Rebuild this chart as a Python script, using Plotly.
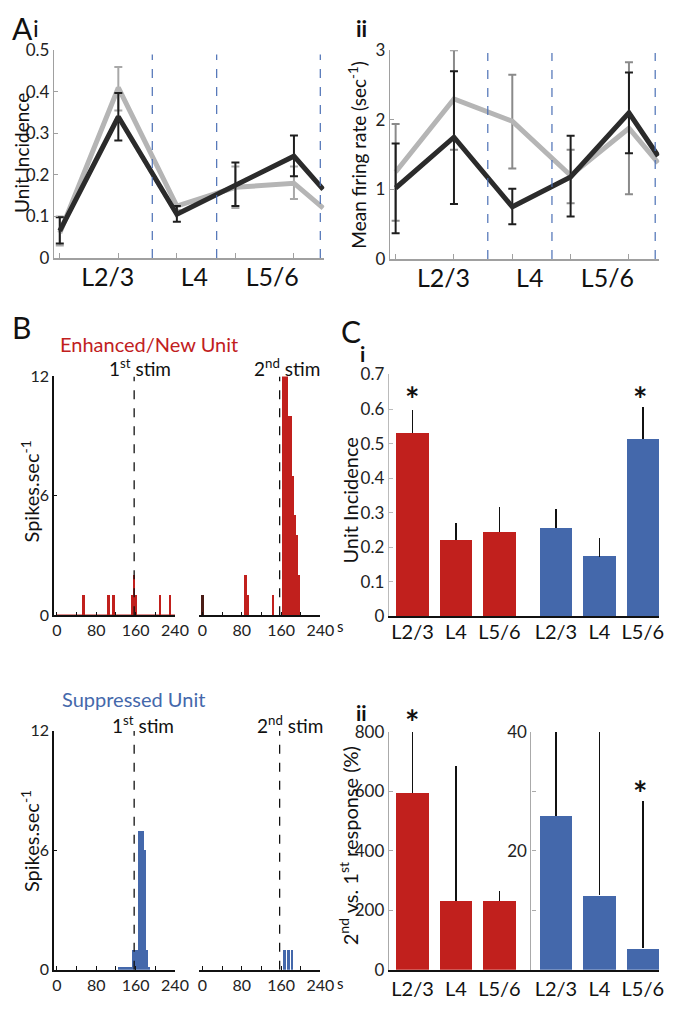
import plotly.graph_objects as go

# ---------------- data ----------------
layers = ["L2/3", "L4", "L5/6"]
depth_pos = [1, 2, 3, 4, 5, 5.5]
layer_bounds = [2.58, 3.68, 5.45]

# Ai - unit incidence
inc_gray = [0.06, 0.41, 0.125, 0.17, 0.18, 0.12]
inc_gray_lo = [0.03, 0.355, 0.115, 0.12, 0.142]
inc_gray_hi = [0.10, 0.46, 0.13, 0.22, 0.22]
inc_black = [0.065, 0.34, 0.105, 0.175, 0.245, 0.165]
inc_black_lo = [0.035, 0.283, 0.087, 0.125, 0.197]
inc_black_hi = [0.098, 0.397, 0.125, 0.23, 0.295]

# Aii - mean firing rate
rate_gray = [1.25, 2.3, 1.98, 1.2, 1.88, 1.38]
rate_gray_lo = [0.55, 1.57, 1.3, 0.8, 0.93]
rate_gray_hi = [1.94, 3.0, 2.65, 1.57, 2.83]
rate_black = [1.02, 1.75, 0.75, 1.18, 2.1, 1.48]
rate_black_lo = [0.37, 0.79, 0.5, 0.61, 1.52]
rate_black_hi = [1.66, 2.7, 1.01, 1.77, 2.68]

# B - PSTHs (bin centre in s, spikes/sec)
stim_time = 157
enh_first_t = [54, 105, 115, 154, 157, 161, 210, 230]
enh_first_n = [1, 1, 1, 1, 2, 1, 1, 1]
enh_second_t = [2, 89, 93, 145, 165, 169, 173, 177, 181, 185, 189, 193, 197]
enh_second_n = [1, 2, 1, 1, 12, 12, 12, 10, 10, 7, 5, 4, 2]
sup_first_t = [127, 131, 135, 139, 143, 147, 151, 155, 159, 163, 167, 171, 175, 179, 183, 187]
sup_first_n = [0.15, 0.15, 0.15, 0.15, 0.15, 0.15, 0.15, 1, 1, 1, 7, 7, 7, 6, 1, 0.15]
sup_second_t = [168, 176, 184]
sup_second_n = [1, 1, 1]

# C - per layer, enhanced (red) and suppressed (blue)
ci_red = [0.53, 0.221, 0.244]
ci_red_top = [0.598, 0.269, 0.317]
ci_blue = [0.255, 0.173, 0.513]
ci_blue_top = [0.312, 0.226, 0.606]
cii_red = [595, 233, 233]
cii_red_top = [800, 684, 266]
cii_blue = [25.8, 12.5, 3.6]
cii_blue_top = [40, 40, 28.4]

# ---------------- style ----------------
# the page puts an 8px body margin round the figure
PAD = 8
W, H = 677, 1010
RED = "#c1201d"
BLUE = "#4468ab"
DARK = "#2b2b2b"
LIGHT = "#b5b5b5"
FONT = "Lato"
AXGRAY = "#a0a0a0"

red_x = [1, 2, 3]
blue_x = [4.3, 5.3, 6.3]
label_pos = [1.82, 3.3, 4.63]


def fx(px):
    return (px - PAD) / W


def fy(py):
    return 1 - (py - PAD) / H


def err_trace(x, mean, lo, hi, color, xa, ya, width=4):
    return go.Scatter(
        x=x, y=mean[: len(x)], mode="markers",
        marker=dict(size=1, color=color, opacity=0),
        error_y=dict(
            type="data", symmetric=False,
            array=[h - m for h, m in zip(hi, mean)],
            arrayminus=[m - l for m, l in zip(mean, lo)],
            color=color, thickness=2, width=width,
        ),
        xaxis=xa, yaxis=ya, showlegend=False, hoverinfo="skip",
    )


def line_trace(y, color, xa, ya):
    return go.Scatter(
        x=depth_pos, y=y, mode="lines", line=dict(color=color, width=5),
        xaxis=xa, yaxis=ya, showlegend=False,
    )


def bar_trace(x, y, top, color, xa, ya):
    return go.Bar(
        x=x, y=y, width=0.75, marker=dict(color=color, line=dict(width=0)),
        error_y=dict(type="data", symmetric=False, array=[t - v for t, v in zip(top, y)],
                     arrayminus=[0] * len(y), color="#111", thickness=1.5, width=0),
        xaxis=xa, yaxis=ya, showlegend=False,
    )


fig = go.Figure()

# Ai
fig.add_trace(err_trace(depth_pos[:5], inc_gray, inc_gray_lo, inc_gray_hi, "#a8a8a8", "x", "y"))
fig.add_trace(line_trace(inc_gray, LIGHT, "x", "y"))
fig.add_trace(err_trace(depth_pos[:5], inc_black, inc_black_lo, inc_black_hi, "#1e1e1e", "x", "y"))
fig.add_trace(line_trace(inc_black, DARK, "x", "y"))

# Aii
fig.add_trace(err_trace(depth_pos[:5], rate_gray, rate_gray_lo, rate_gray_hi, "#8a8a8a", "x2", "y2"))
fig.add_trace(line_trace(rate_gray, LIGHT, "x2", "y2"))
fig.add_trace(err_trace(depth_pos[:5], rate_black, rate_black_lo, rate_black_hi, "#1e1e1e", "x2", "y2"))
fig.add_trace(line_trace(rate_black, DARK, "x2", "y2"))

# B histograms
hists = [
    (enh_first_t, enh_first_n, RED, "x3", "y3"),
    (enh_second_t, enh_second_n, RED, "x4", "y4"),
    (sup_first_t, sup_first_n, BLUE, "x5", "y5"),
    (sup_second_t, sup_second_n, BLUE, "x6", "y6"),
]
for t, n, col, xa, ya in hists:
    colors = ["#4a1c16" if (xa == "x4" and tt < 10) else col for tt in t]
    fig.add_trace(go.Bar(x=t, y=n, width=4, marker=dict(color=colors, line=dict(width=0)),
                         xaxis=xa, yaxis=ya, showlegend=False))
# red baseline of enhanced unit, first stim
fig.add_trace(go.Scatter(x=[0, 240], y=[0, 0], mode="lines", line=dict(color=RED, width=1.5),
                         xaxis="x3", yaxis="y3", showlegend=False))

# C
fig.add_trace(bar_trace(red_x, ci_red, ci_red_top, RED, "x7", "y7"))
fig.add_trace(bar_trace(blue_x, ci_blue, ci_blue_top, BLUE, "x7", "y7"))
fig.add_trace(bar_trace(red_x, cii_red, cii_red_top, RED, "x8", "y8"))
fig.add_trace(bar_trace(blue_x, cii_blue, cii_blue_top, BLUE, "x8", "y9"))

# ---------------- axes ----------------
tick_font = dict(family=FONT, size=17, color="#222")


def layer_xaxis(dom, anchor):
    return dict(
        domain=dom, range=[0.9, 5.52], anchor=anchor, showline=True, linecolor=AXGRAY, linewidth=1.5,
        tickvals=label_pos, ticktext=layers, ticks="", tickfont=dict(family=FONT, size=25, color="#111"),
        ticklabelstandoff=-4,
        minor=dict(tickvals=depth_pos[:5], ticks="inside", ticklen=5, tickcolor=AXGRAY, showgrid=False),
        showgrid=False, zeroline=False,
    )


def lin_yaxis(dom, rng, dtick, anchor, color=AXGRAY):
    return dict(
        domain=dom, range=rng, dtick=dtick, tick0=0, anchor=anchor, showline=True, linecolor=color,
        linewidth=1.2, ticks="inside", ticklen=4, tickcolor=color, tickfont=tick_font,
        showgrid=False, zeroline=False,
    )


def hist_xaxis(dom, anchor):
    return dict(
        domain=dom, range=[-6, 240], anchor=anchor, tickvals=[0, 80, 160, 240], ticks="inside",
        ticklen=4, tickcolor="#111", minor=dict(tickvals=[40, 120, 200], ticks="inside", ticklen=4,
                                               tickcolor="#111"),
        showline=True, linecolor="#111", linewidth=1.5, tickfont=dict(family=FONT, size=16, color="#222"),
        showgrid=False, zeroline=False,
    )


def hist_yaxis(dom, anchor, show):
    return dict(
        domain=dom, range=[0, 12], anchor=anchor, visible=show, tickvals=[0, 6, 12], ticks="inside",
        ticklen=3, tickcolor="#111", showline=True, linecolor="#111", linewidth=1.5,
        tickfont=dict(family=FONT, size=16, color="#222"), showgrid=False, zeroline=False,
    )


def bar_xaxis(dom, anchor, standoff):
    return dict(
        domain=dom, range=[0.455, 6.68], anchor=anchor, tickvals=red_x + blue_x, ticktext=layers * 2,
        ticks="", showline=True, linecolor="#111", linewidth=2, ticklabelstandoff=standoff,
        tickfont=dict(family=FONT, size=20, color="#111"), showgrid=False, zeroline=False,
    )


fig.update_layout(
    width=W, height=H, autosize=False, margin=dict(l=0, r=0, t=0, b=0),
    paper_bgcolor="white", plot_bgcolor="white", bargap=0, barmode="overlay",
    font=dict(family=FONT, color="#111"),
    xaxis=layer_xaxis([fx(53), fx(330)], "y"),
    yaxis=lin_yaxis([fy(252), fy(40)], [0, 0.5], 0.1, "x"),
    xaxis2=layer_xaxis([fx(397), fx(673)], "y2"),
    yaxis2=lin_yaxis([fy(253), fy(40)], [0, 3], 1, "x2"),
    xaxis3=hist_xaxis([fx(53), fx(177)], "y3"),
    yaxis3=hist_yaxis([fy(617), fy(373)], "x3", True),
    xaxis4=hist_xaxis([fx(202), fx(326)], "y4"),
    yaxis4=hist_yaxis([fy(617), fy(373)], "x4", False),
    xaxis5=hist_xaxis([fx(53), fx(177)], "y5"),
    yaxis5=hist_yaxis([fy(979), fy(735)], "x5", True),
    xaxis6=hist_xaxis([fx(202), fx(326)], "y6"),
    yaxis6=hist_yaxis([fy(979), fy(735)], "x6", False),
    xaxis7=bar_xaxis([fx(396), fx(673)], "y7", -3),
    yaxis7=lin_yaxis([fy(618), fy(371)], [0, 0.7], 0.1, "x7", "#bbbbbb"),
    xaxis8=bar_xaxis([fx(396), fx(673)], "y8", 0),
    yaxis8=lin_yaxis([fy(979), fy(736)], [0, 800], 200, "x8", "#aaaaaa"),
    yaxis9=dict(
        range=[0, 40], overlaying="y8", anchor="free", position=fx(541), side="left",
        tickvals=[0, 10, 20, 30, 40], ticktext=["", "", "20", "", "40"], showline=True,
        linecolor="#aaaaaa", linewidth=1.2, ticks="inside", ticklen=4, tickcolor="#aaaaaa",
        tickfont=tick_font, showgrid=False, zeroline=False,
    ),
)

# layer boundaries in A
for xa, ya, top in [("x", "y", 0.49), ("x2", "y2", 2.96)]:
    for b in layer_bounds:
        fig.add_shape(type="line", x0=b, x1=b, y0=0, y1=top, xref=xa, yref=ya,
                      line=dict(color="#4a6fb5", width=1.2, dash="dash"))

# stimulus markers in B
for xa, ya in [("x3", "y3"), ("x4", "y4"), ("x5", "y5"), ("x6", "y6")]:
    fig.add_shape(type="line", x0=stim_time, x1=stim_time, y0=0, y1=12, xref=xa, yref=ya,
                  line=dict(color="#111", width=1.3, dash="dash"), layer="above")


# ---------------- text ----------------
def note(text, px, py, size, color="#111", angle=0, xanchor="center"):
    fig.add_annotation(text=text, x=fx(px), y=fy(py), xref="paper", yref="paper",
                       xanchor=xanchor, yanchor="middle", showarrow=False, textangle=angle,
                       font=dict(family=FONT, size=size, color=color))


note("A", 8, 17, 30, xanchor="left")
note("i", 29, 17, 24, xanchor="left")
note("<b>ii</b>", 368, 18, 22)
note("B", 8, 323, 30, xanchor="left")
note("C", 345, 327, 30, xanchor="left")
note("<b>i</b>", 369, 350, 21)
note("<b>ii</b>", 368, 716, 21)

note("Unit Incidence", 19, 145, 19, angle=-90)
note("Mean firing rate (sec<sup>-1</sup>)", 364, 147, 19, angle=-90)
note("Spikes.sec<sup>-1</sup>", 28, 491, 20, angle=-90)
note("Spikes.sec<sup>-1</sup>", 28, 848, 20, angle=-90)
note("Unit Incidence", 356, 500, 20, angle=-90)
note("2<sup>nd</sup> vs. 1<sup>st</sup> response (%)", 355, 852, 20, angle=-90)

note("Enhanced/New Unit", 150, 340, 20, RED)
note("Suppressed Unit", 135, 702, 20, BLUE)
note("1<sup>st</sup> stim", 141, 364, 19)
note("2<sup>nd</sup> stim", 292, 364, 19)
note("1<sup>st</sup> stim", 144, 728, 19)
note("2<sup>nd</sup> stim", 295, 728, 19)
note("s", 347, 628, 15)
note("s", 347, 992, 15)

for px, py in [(420, 396), (653, 396), (420, 725), (653, 798)]:
    note("<b>*</b>", px, py, 34)

fig.write_html("out.html")
